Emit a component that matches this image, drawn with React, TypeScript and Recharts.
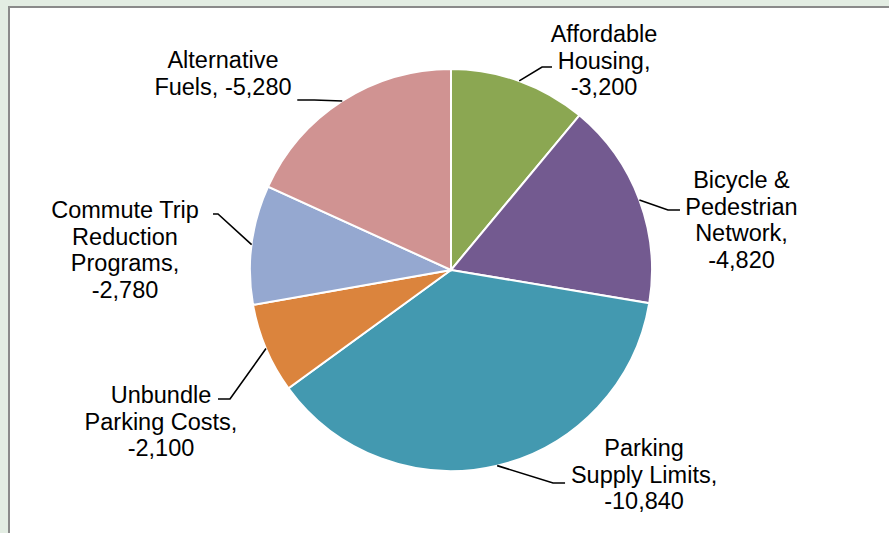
import React from "react";
import { PieChart, Pie, Cell } from "recharts";

// ---- data ----
const categories = [
  "Affordable|Housing",
  "Bicycle &|Pedestrian|Network",
  "Parking|Supply Limits",
  "Unbundle|Parking Costs",
  "Commute Trip|Reduction|Programs",
  "Alternative|Fuels",
];
const values = [-3200, -4820, -10840, -2100, -2780, -5280];
const colors = ["#8BA752", "#735A90", "#4399B0", "#DB843D", "#95A8D0", "#D09392"];

// label layout: offsets relative to the slice's outer-edge midpoint
// elbow [dx,dy], tail (signed horizontal length), textDx (from tail end), baseDy (first baseline from elbow y)
const labelLayout = [
  { elbow: [22.8, -13.9], tail: 10, textDx: 52, baseDy: -25, valueInline: false },
  { elbow: [28.6, 10.1], tail: 12, textDx: 61.5, baseDy: -22, valueInline: false },
  { elbow: [55.9, 17.4], tail: 12, textDx: 79, baseDy: -27, valueInline: false },
  { elbow: [-36, 50.5], tail: -12, textDx: -57, baseDy: 4, valueInline: false },
  { elbow: [-33.6, -30.6], tail: -5, textDx: -88, baseDy: 4, valueInline: false },
  { elbow: [-28, -1], tail: -17, textDx: -74.3, baseDy: -31.6, valueInline: true },
];

const data = categories.map((c, i) => ({ name: c, value: values[i] }));

const RAD = Math.PI / 180;
const LINE_H = 26.5;
const FONT = "'Liberation Sans', Arial, sans-serif";

const fmt = (v: number) => (v < 0 ? "-" : "") + Math.abs(v).toLocaleString("en-US");

const renderLabel = (props: any) => {
  const { cx, cy, midAngle, outerRadius, index } = props;
  const d = data[index];
  const lay = labelLayout[index];
  const ex = cx + outerRadius * Math.cos(-midAngle * RAD);
  const ey = cy + outerRadius * Math.sin(-midAngle * RAD);
  const bx = ex + lay.elbow[0];
  const by = ey + lay.elbow[1];
  const tx = bx + lay.tail;
  const textX = tx + lay.textDx;
  const parts = d.name.split("|");
  const lines = [...parts];
  if (lay.valueInline) {
    lines[lines.length - 1] = lines[lines.length - 1] + ", " + fmt(d.value);
  } else {
    lines[lines.length - 1] = lines[lines.length - 1] + ",";
    lines.push(fmt(d.value));
  }
  return (
    <g key={"lbl" + index}>
      <polyline
        points={`${ex},${ey} ${bx},${by} ${tx},${by}`}
        fill="none"
        stroke="#000"
        strokeWidth={1.6}
      />
      <text fontFamily={FONT} fontSize={23.5} fill="#000" textAnchor="middle">
        {lines.map((ln, i) => (
          <tspan key={i} x={textX} y={by + lay.baseDy + i * LINE_H}>
            {ln}
          </tspan>
        ))}
      </text>
    </g>
  );
};

export default function App() {
  return (
    <div
      style={{
        position: "absolute",
        left: 0,
        top: 0,
        width: 889,
        height: 533,
        background: "#E3EDE3",
        overflow: "hidden",
      }}
    >
      <div
        style={{
          position: "absolute",
          left: 8,
          top: 6,
          width: 900,
          height: 540,
          background: "#fff",
          borderLeft: "2px solid #8A8A8A",
          borderTop: "2px solid #8A8A8A",
        }}
      />
      <div style={{ position: "absolute", left: 0, top: 0 }}>
        <PieChart width={889} height={533} margin={{ top: 0, right: 0, bottom: 0, left: 0 }}>
          <Pie
            data={data}
            dataKey={(d: any) => Math.abs(d.value)}
            nameKey="name"
            cx={451}
            cy={270}
            outerRadius={201}
            startAngle={90}
            endAngle={-270}
            stroke="#fff"
            strokeWidth={2}
            label={renderLabel}
            labelLine={false}
            isAnimationActive={false}
          >
            {data.map((_, i) => (
              <Cell key={i} fill={colors[i]} />
            ))}
          </Pie>
        </PieChart>
      </div>
    </div>
  );
}
